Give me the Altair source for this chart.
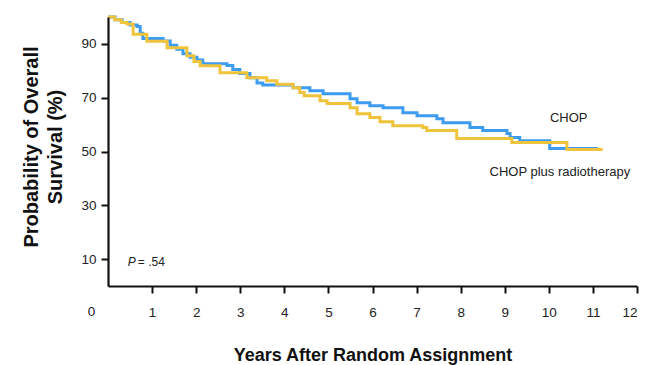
import altair as alt
import pandas as pd

# Kaplan-Meier curves (years, % surviving)
chop_t = [0, 0.16, 0.32, 0.50, 0.66, 0.73, 0.79, 1.25, 1.41, 1.56, 1.70, 1.86, 2.02, 2.15,
          2.70, 2.83, 2.99, 3.22, 3.38, 3.51, 4.20, 4.58, 4.88, 5.49, 5.65, 5.94, 6.24,
          6.69, 7.01, 7.46, 7.60, 8.21, 8.50, 9.05, 9.12, 9.34, 10.02, 11.11]
chop_v = [100, 99, 98, 97, 96.5, 94, 92, 91.1, 89.5, 88, 86.3, 85, 84, 82.6,
          82, 80.5, 79, 77.4, 75.5, 74.7, 73.7, 72.6, 71.5, 69.6, 68.1, 67, 66.3,
          64.4, 63.3, 62.2, 60.7, 58.9, 57.8, 56.7, 55.2, 54, 51.1, 51.1]

rt_t = [0, 0.15, 0.30, 0.43, 0.57, 0.88, 1.34, 1.79, 1.95, 2.09, 2.54, 3.15, 3.60, 3.83,
        4.20, 4.35, 4.45, 4.81, 4.97, 5.49, 5.65, 5.94, 6.17, 6.46, 7.14, 7.23, 7.91,
        9.16, 10.41, 11.22]
rt_v = [100, 99, 98, 97.4, 93.6, 91, 88.6, 85.6, 83.5, 81.9, 79.3, 77.4, 76.3, 75,
        73.7, 71.9, 70.7, 68.9, 67.8, 66.3, 64, 62.6, 61.1, 59.6, 58.9, 57.8, 54.8,
        53.3, 50.7, 50.7]

arms = ["CHOP", "CHOP plus radiotherapy"]
colors = ["#3d9bf0", "#efc43c"]

y_ticks = [10, 20, 30, 40, 50, 60, 70, 80, 90, 100]
x_ticks = [1, 2, 3, 4, 5, 6, 7, 8, 9, 10, 11, 12]

# curve labels (position in data units)
label_text = ["CHOP", "CHOP plus radiotherapy"]
label_t = [10.45, 10.25]
label_v = [62.6, 42.2]

rows = []
for t, v in zip(chop_t, chop_v):
    rows.append({"t": t, "v": v, "arm": arms[0]})
for t, v in zip(rt_t, rt_v):
    rows.append({"t": t, "v": v, "arm": arms[1]})
df_lines = pd.DataFrame(rows)
df_lab = pd.DataFrame({"t": label_t, "v": label_v, "text": label_text})

SANS = "Liberation Sans"

xscale = alt.Scale(domain=[0, 12], nice=False, zero=False)
yscale = alt.Scale(domain=[0, 100], nice=False)
cscale = alt.Scale(domain=arms, range=colors)

lines = alt.Chart(df_lines).mark_line(interpolate="step-after", strokeWidth=3).encode(
    x=alt.X("t:Q", scale=xscale,
            axis=alt.Axis(values=x_ticks, title="Years After Random Assignment",
                          labelOverlap=False, zindex=1)),
    y=alt.Y("v:Q", scale=yscale,
            axis=alt.Axis(values=y_ticks, title=["Probability of Overall", "Survival (%)"],
                          labelOverlap=False, labelSeparation=0, zindex=1)),
    color=alt.Color("arm:N", scale=cscale, legend=None),
    order=alt.Order("t:Q"),
)

labels = alt.Chart(df_lab).mark_text(
    font=SANS, fontSize=13, color="#222", align="center", baseline="middle"
).encode(x=alt.X("t:Q"), y=alt.Y("v:Q"), text="text:N")

p_df = pd.DataFrame({"t": [0.45], "v": [8.9], "p": ["P"], "rest": ["= .54"]})
p_letter = alt.Chart(p_df).mark_text(
    font=SANS, fontSize=12, fontStyle="italic", color="#222", align="left", baseline="middle"
).encode(x=alt.X("t:Q"), y=alt.Y("v:Q"), text="p:N")
p_rest = alt.Chart(p_df).mark_text(
    font=SANS, fontSize=12, color="#222", align="left", baseline="middle", dx=10
).encode(x=alt.X("t:Q"), y=alt.Y("v:Q"), text="rest:N")

zero_df = pd.DataFrame({"t": [0], "v": [0], "zero": ["0"]})
zero_lab = alt.Chart(zero_df).mark_text(
    font=SANS, fontSize=13.5, color="#222", align="center", baseline="middle", dx=-16.5, dy=26
).encode(x=alt.X("t:Q"), y=alt.Y("v:Q"), text="zero:N")

chart = alt.layer(lines, labels, p_letter, p_rest, zero_lab).properties(
    width=529, height=269,
    autosize=alt.AutoSizeParams(type="none"),
    padding={"left": 108, "top": 17, "right": 13, "bottom": 79},
    background="white",
).configure_view(stroke=None).configure_axis(
    grid=False, labelOverlap=False, domain=True, ticks=True,
    domainColor="#111111", domainWidth=2.2, tickColor="#111111", tickWidth=2, tickSize=7,
    labelFont=SANS, labelFontSize=13.5, labelColor="#222222",
    titleFont=SANS, titleFontWeight="bold", titleColor="#111111",
).configure_axisX(
    labelPadding=12, titleFontSize=18, titleY=74, titleBaseline="alphabetic",
).configure_axisY(
    labelPadding=5, titleFontSize=20, titleAngle=-90, titleX=-77, titleY=129.5,
    titleBaseline="middle", titleAlign="center", titleLineHeight=24,
)

chart.save("out.html", embed_options={"renderer": "svg", "actions": False})
